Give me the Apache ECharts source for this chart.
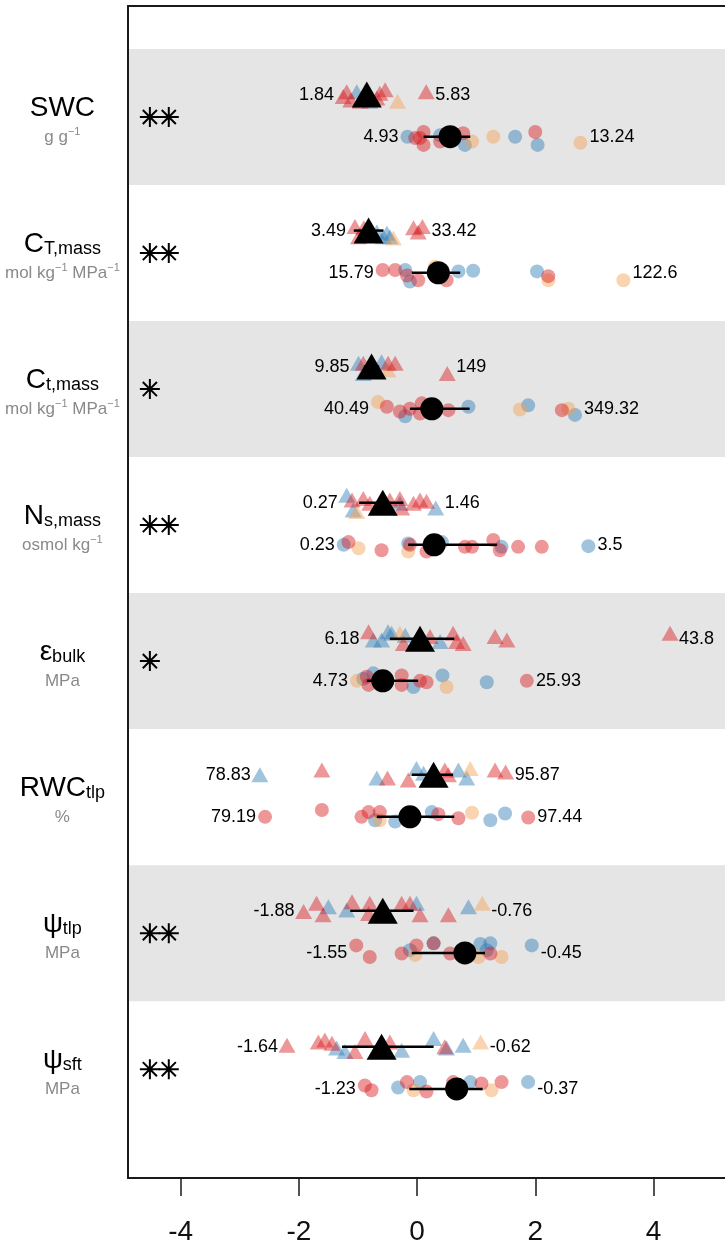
<!DOCTYPE html>
<html>
<head>
<meta charset="utf-8">
<script src="https://cdn.jsdelivr.net/npm/echarts@6/dist/echarts.min.js"></script>
<style>
  html, body { margin: 0; padding: 0; background: #fff; }
  #chart { width: 725px; height: 1250px; }
</style>
</head>
<body>
<div id="chart"></div>
<script>
// ---- Row descriptions -------------------------------------------------
const rowTitles = [
  '{m|SWC}',
  '{m|C}{s|T,mass}',
  '{m|C}{s|t,mass}',
  '{m|N}{s|s,mass}',
  '{m|ε}{s|bulk}',
  '{m|RWC}{s|tlp}',
  '{m|ψ}{s|tlp}',
  '{m|ψ}{s|sft}'
];
const rowUnits = [
  '{u|g g}{p|−1}',
  '{u|mol kg}{p|−1}{u| MPa}{p|−1}',
  '{u|mol kg}{p|−1}{u| MPa}{p|−1}',
  '{u|osmol kg}{p|−1}',
  '{u|MPa}',
  '{u|%}',
  '{u|MPa}',
  '{u|MPa}'
];
const rowStars = [2, 2, 1, 2, 1, 0, 2, 2];

// centre and spread of each trait (raw units), used to standardise
const rowCenter = [5.39, 31.03, 101.6, 1.21, 12.23, 89.73, -1.169, -0.955];
const rowSpread = [2.84, 26.23, 92.7, 0.79, 7.376, 4.099, 0.3705, 0.3113];

// ---- Individual species: [standardised value, vertical jitter, group] ----
// groups: r = red, b = blue, o = orange
const swcTri = [[-1.19,-0.02,'r'],[-1.12,0.04,'r'],[-1.02,-0.02,'b'],[-0.96,0.05,'r'],[-0.80,0.05,'b'],[-0.63,-0.01,'r'],[-0.54,-0.035,'r'],[-0.68,0.025,'r'],[-0.33,0.05,'o']];
const swcTriEnds = [[1.84,0.015,'r'],[5.83,-0.02,'r']];
const swcCirc = [[-0.03,0.01,'r'],[0.11,-0.035,'r'],[0.11,0.06,'r'],[0.05,0.01,'r'],[0.39,-0.01,'b'],[0.39,0.035,'r'],[0.50,-0.025,'r'],[0.78,-0.025,'r'],[0.81,0.06,'b'],[0.93,0.035,'o'],[1.29,0,'o'],[1.66,0,'b'],[2.00,-0.035,'r'],[2.04,0.06,'b']];
const swcCircEnds = [[4.93,0,'b'],[13.24,0.045,'o']];

const cBigTri = [[-0.99,0.045,'r'],[-0.90,-0.02,'r'],[-0.74,0.03,'r'],[-0.68,0.01,'b'],[-0.57,0.045,'b'],[-0.51,0.02,'b'],[-0.46,0.045,'b'],[-0.40,0.055,'o'],[-0.06,-0.02,'r'],[0.02,0.01,'r']];
const cBigTriEnds = [[3.49,-0.03,'r'],[33.42,-0.03,'r']];
const cBigCirc = [[-0.37,-0.02,'r'],[-0.20,-0.02,'b'],[-0.17,0.02,'r'],[-0.12,0.065,'b'],[0.02,0.055,'r'],[0.30,-0.045,'o'],[0.50,0.055,'r'],[0.70,-0.01,'b'],[0.95,-0.015,'b'],[2.03,-0.01,'b'],[2.22,0.055,'o'],[2.22,0.025,'r']];
const cBigCircEnds = [[15.79,-0.02,'r'],[122.6,0.055,'o']];

const cSmallTri = [[-0.91,-0.025,'r'],[-0.91,0.05,'b'],[-0.72,0.035,'r'],[-0.60,-0.035,'b'],[-0.49,-0.025,'r'],[-0.37,-0.025,'r'],[-0.49,0.025,'o']];
const cSmallTriEnds = [[9.85,-0.025,'b'],[149,0.05,'r']];
const cSmallCirc = [[-0.51,-0.015,'r'],[-0.29,0.02,'r'],[-0.20,0.055,'b'],[-0.12,0,'r'],[0.08,-0.04,'r'],[0.05,0.035,'r'],[0.53,0.01,'r'],[0.87,-0.015,'b'],[1.74,0.005,'o'],[1.88,-0.025,'b'],[2.45,0.01,'r'],[2.56,0,'o']];
const cSmallCircEnds = [[40.49,-0.05,'o'],[349.32,0.045,'b']];

const nsTri = [[-1.08,0.055,'b'],[-1.02,0.065,'o'],[-1.10,-0.02,'r'],[-0.91,-0.03,'r'],[-0.80,0.005,'r'],[-0.46,-0.02,'r'],[-0.29,-0.03,'r'],[-0.26,0.04,'r'],[-0.29,0.005,'b'],[-0.06,0.005,'r'],[0.05,-0.02,'r'],[0.16,-0.01,'r']];
const nsTriEnds = [[0.27,-0.055,'b'],[1.46,0.04,'b']];
const nsCirc = [[-1.16,-0.02,'r'],[-0.99,0.025,'o'],[-0.60,0.04,'r'],[-0.15,-0.01,'b'],[-0.12,0,'r'],[-0.15,0.05,'o'],[0.16,0.05,'r'],[0.42,-0.02,'b'],[0.81,0.015,'r'],[0.93,0.015,'r'],[1.29,-0.035,'r'],[1.40,0.04,'r'],[1.43,0.015,'b'],[1.71,0.015,'r'],[2.11,0.015,'r']];
const nsCircEnds = [[0.23,0,'b'],[3.5,0.01,'b']];

const epsTri = [[-0.74,0.01,'b'],[-0.60,0.01,'b'],[-0.49,-0.05,'b'],[-0.43,-0.04,'b'],[-0.29,-0.04,'o'],[-0.23,0.035,'r'],[-0.20,-0.025,'b'],[0.22,-0.015,'r'],[0.39,0.02,'b'],[0.61,-0.04,'r'],[0.67,0.02,'r'],[0.78,0.035,'r'],[1.32,-0.015,'r'],[1.52,0.01,'r']];
const epsTriEnds = [[6.18,-0.05,'r'],[43.8,-0.04,'r']];
const epsCirc = [[-0.91,-0.015,'b'],[-0.85,-0.03,'r'],[-0.82,0.03,'r'],[-0.74,-0.055,'b'],[-0.26,-0.04,'r'],[-0.26,0.03,'r'],[-0.06,0.045,'b'],[0.05,0,'r'],[0.16,0.01,'r'],[0.43,-0.04,'b'],[0.50,0.045,'o'],[1.18,0.01,'b']];
const epsCircEnds = [[4.73,0,'o'],[25.93,0,'r']];

const rwcTri = [[-1.61,-0.035,'r'],[-0.68,0.025,'b'],[-0.50,0.025,'r'],[-0.15,0.04,'r'],[-0.01,-0.045,'b'],[0.11,-0.01,'b'],[0.47,-0.035,'r'],[0.53,0,'r'],[0.70,-0.035,'b'],[0.90,-0.045,'o'],[0.84,0.025,'b'],[1.32,-0.035,'r']];
const rwcTriEnds = [[78.83,0,'b'],[95.87,-0.02,'r']];
const rwcCirc = [[-1.61,-0.05,'r'],[-0.94,0,'r'],[-0.82,-0.035,'r'],[-0.63,-0.035,'r'],[-0.71,0.025,'b'],[-0.63,0.025,'o'],[-0.37,0.035,'b'],[0.25,-0.035,'b'],[0.36,-0.02,'r'],[0.70,0.01,'r'],[0.93,-0.03,'o'],[1.24,0.025,'b'],[1.49,-0.025,'b']];
const rwcCircEnds = [[79.19,0,'r'],[97.44,0.005,'r']];

const tlpTri = [[-1.70,-0.055,'r'],[-1.50,-0.03,'b'],[-1.59,0.03,'r'],[-1.10,-0.065,'r'],[-1.19,-0.005,'b'],[-0.80,-0.055,'r'],[-0.82,0.02,'r'],[-0.26,-0.055,'r'],[-0.12,-0.055,'r'],[-0.01,-0.055,'b'],[0.05,0.03,'r'],[0.53,0.03,'r'],[0.87,-0.03,'b']];
const tlpTriEnds = [[-1.88,0.005,'r'],[-0.76,-0.055,'o']];
const tlpCirc = [[-0.80,0.03,'r'],[-0.26,0.005,'r'],[-0.12,-0.02,'b'],[-0.01,-0.055,'r'],[-0.03,0.015,'o'],[0.28,-0.07,'b'],[0.28,-0.07,'r'],[0.56,0.005,'r'],[1.07,-0.065,'b'],[1.24,-0.07,'b'],[1.04,0.03,'o'],[1.24,0.005,'r'],[1.43,0.03,'o'],[1.18,-0.02,'b']];
const tlpCircEnds = [[-1.55,-0.055,'r'],[-0.45,-0.055,'b']];

const sftTri = [[-1.67,-0.035,'r'],[-1.56,-0.05,'r'],[-1.44,-0.025,'r'],[-1.36,0.01,'b'],[-1.22,0.035,'b'],[-1.05,0.035,'r'],[-0.88,-0.06,'r'],[-0.46,-0.035,'r'],[-0.26,0.025,'b'],[0.28,-0.06,'b'],[0.47,0,'r'],[0.50,0.01,'b'],[0.78,-0.01,'b']];
const sftTriEnds = [[-1.64,-0.01,'r'],[-0.62,-0.035,'o']];
const sftCirc = [[-0.77,0.01,'r'],[-0.32,-0.01,'b'],[-0.17,-0.05,'r'],[-0.06,0.01,'o'],[0.05,-0.05,'b'],[0.16,0.02,'r'],[0.61,-0.05,'r'],[0.90,-0.05,'b'],[1.09,-0.04,'r'],[1.26,0.01,'o'],[1.43,-0.05,'r']];
const sftCircEnds = [[-1.23,-0.025,'r'],[-0.37,-0.05,'b']];

// ---- Group means with intervals (standardised) ----
const triMean  = [-0.85, -0.82, -0.77, -0.58, 0.05, 0.28, -0.58, -0.60];
const triLow   = [-0.95, -1.07, -0.90, -0.98, -0.46, -0.09, -1.13, -1.27];
const triHigh  = [-0.75, -0.57, -0.64, -0.23, 0.63, 0.61, -0.06, 0.28];
const circMean = [0.56, 0.36, 0.25, 0.29, -0.58, -0.12, 0.81, 0.67];
const circLow  = [0.11, -0.09, -0.12, -0.15, -0.85, -0.68, -0.09, -0.13];
const circHigh = [0.90, 0.73, 0.89, 1.35, 0.02, 0.63, 1.15, 1.11];

const xTicks = [-4, -2, 0, 2, 4];

// ---- Build series data ------------------------------------------------
const rows = [
  { tri: swcTri, triEnds: swcTriEnds, circ: swcCirc, circEnds: swcCircEnds },
  { tri: cBigTri, triEnds: cBigTriEnds, circ: cBigCirc, circEnds: cBigCircEnds },
  { tri: cSmallTri, triEnds: cSmallTriEnds, circ: cSmallCirc, circEnds: cSmallCircEnds },
  { tri: nsTri, triEnds: nsTriEnds, circ: nsCirc, circEnds: nsCircEnds },
  { tri: epsTri, triEnds: epsTriEnds, circ: epsCirc, circEnds: epsCircEnds },
  { tri: rwcTri, triEnds: rwcTriEnds, circ: rwcCirc, circEnds: rwcCircEnds },
  { tri: tlpTri, triEnds: tlpTriEnds, circ: tlpCirc, circEnds: tlpCircEnds },
  { tri: sftTri, triEnds: sftTriEnds, circ: sftCirc, circEnds: sftCircEnds }
];

const TRI_ROW = 0.335;   // position of the triangle line inside a band
const CIRC_ROW = 0.645;  // position of the circle line inside a band
const FONT = "'Liberation Sans', Arial, Helvetica, sans-serif";

const standardise = (i, raw) => (raw - rowCenter[i]) / rowSpread[i];

const points = { tri: { b: [], o: [], r: [] }, circ: { b: [], o: [], r: [] } };
const leftLabels = [];
const rightLabels = [];
rows.forEach((row, i) => {
  [['tri', TRI_ROW], ['circ', CIRC_ROW]].forEach(([kind, off]) => {
    row[kind].forEach(([v, dy, g]) => points[kind][g].push([v, i + off + dy]));
    row[kind + 'Ends'].forEach(([raw, dy, g], j) => {
      const x = standardise(i, raw);
      points[kind][g].push([x, i + off + dy]);
      (j === 0 ? leftLabels : rightLabels).push({ value: [x, i + off], name: String(raw) });
    });
  });
});

const errData = [];
rows.forEach((_, i) => {
  errData.push([triLow[i], triHigh[i], i + TRI_ROW]);
  errData.push([circLow[i], circHigh[i], i + CIRC_ROW]);
});
const triMeanData = triMean.map((v, i) => [v, i + TRI_ROW]);
const circMeanData = circMean.map((v, i) => [v, i + CIRC_ROW]);

const starData = [];
rowStars.forEach((n, i) => {
  for (let k = 0; k < n; k++) starData.push([-4.52 + k * 0.32, i + 0.5]);
});

const TITLE_X = -6.0;
const titleData = rowTitles.map((t, i) => ({ value: [TITLE_X, i + 0.5 - 0.074], name: t }));
const unitData = rowUnits.map((t, i) => ({ value: [TITLE_X, i + 0.5 + 0.14], name: t }));
const bandData = [0, 2, 4, 6];

const palette = {
  r: 'rgba(215, 25, 28, 0.45)',
  b: 'rgba(44, 123, 182, 0.45)',
  o: 'rgba(245, 160, 80, 0.45)'
};

const pointSeries = [];
['tri', 'circ'].forEach(kind => {
  ['b', 'o', 'r'].forEach(g => {
    pointSeries.push({
      type: 'scatter',
      data: points[kind][g],
      symbol: kind === 'tri' ? 'triangle' : 'circle',
      symbolSize: kind === 'tri' ? [17, 15] : 14,
      itemStyle: { color: palette[g], opacity: 1 },
      silent: true,
      z: 3
    });
  });
});

const asterisk = 'path://M10,0L10,20M0,10L20,10M2.93,2.93L17.07,17.07M2.93,17.07L17.07,2.93';

const xMin = -4.89, xMax = 5.21;
const frameLine = { color: '#1a1a1a', width: 2 };
const hidden = { color: 'rgba(0,0,0,0)', opacity: 1 };

const option = {
  animation: false,
  backgroundColor: '#fff',
  textStyle: { fontFamily: FONT },
  grid: { left: 128, top: 6, right: 0, height: 1172, containLabel: false },
  xAxis: [
    {
      type: 'value', min: xMin, max: xMax, position: 'bottom',
      axisLine: { show: true, onZero: false, lineStyle: frameLine },
      axisTick: { show: true, customValues: xTicks, length: 18, lineStyle: { color: '#1a1a1a', width: 1.5 } },
      axisLabel: { show: true, customValues: xTicks, fontSize: 28, color: '#111', margin: 40, fontFamily: FONT },
      splitLine: { show: false }
    },
    {
      type: 'value', min: xMin, max: xMax, position: 'top',
      axisLine: { show: true, onZero: false, lineStyle: frameLine },
      axisTick: { show: false }, axisLabel: { show: false }, splitLine: { show: false }
    }
  ],
  yAxis: {
    type: 'value', inverse: true, min: -0.316, max: 8.30,
    axisLine: { show: true, onZero: false, lineStyle: frameLine },
    axisTick: { show: false }, axisLabel: { show: false }, splitLine: { show: false }
  },
  series: [
    {
      // alternating grey bands behind every other trait
      type: 'custom',
      z: -1,
      silent: true,
      data: bandData,
      encode: { y: 0 },
      renderItem: (params, api) => {
        const i = api.value(0);
        const p1 = api.coord([xMin, i]);
        const p2 = api.coord([xMax, i + 1]);
        return {
          type: 'rect',
          shape: { x: p1[0], y: p1[1], width: p2[0] - p1[0], height: p2[1] - p1[1] },
          style: { fill: '#e5e5e5' }
        };
      }
    },
    ...pointSeries,
    {
      // interval bars for the two group means
      type: 'custom',
      z: 4,
      silent: true,
      data: errData,
      encode: { x: [0, 1], y: 2 },
      renderItem: (params, api) => {
        const y = api.value(2);
        const a = api.coord([api.value(0), y]);
        const b = api.coord([api.value(1), y]);
        return {
          type: 'line',
          shape: { x1: a[0], y1: a[1], x2: b[0], y2: b[1] },
          style: { stroke: '#000', lineWidth: 2.5 }
        };
      }
    },
    {
      type: 'scatter', data: triMeanData, symbol: 'triangle', symbolSize: [30, 26],
      itemStyle: { color: '#000', opacity: 1 }, z: 5, silent: true
    },
    {
      type: 'scatter', data: circMeanData, symbol: 'circle', symbolSize: 23,
      itemStyle: { color: '#000', opacity: 1 }, z: 5, silent: true
    },
    {
      type: 'scatter', data: leftLabels, symbolSize: 0.1, itemStyle: hidden,
      z: 6, silent: true,
      label: { show: true, position: 'left', distance: 9, formatter: p => p.name, fontSize: 18, color: '#000', fontFamily: FONT }
    },
    {
      type: 'scatter', data: rightLabels, symbolSize: 0.1, itemStyle: hidden,
      z: 6, silent: true,
      label: { show: true, position: 'right', distance: 9, formatter: p => p.name, fontSize: 18, color: '#000', fontFamily: FONT }
    },
    {
      // significance asterisks
      type: 'scatter', data: starData, symbol: asterisk, symbolSize: 20,
      itemStyle: { color: 'rgba(0,0,0,0)', borderColor: '#000', borderWidth: 2, opacity: 1 },
      z: 6, silent: true
    },
    {
      // trait names in the left margin
      type: 'scatter', data: titleData, symbolSize: 0.1, clip: false,
      itemStyle: hidden, z: 6, silent: true,
      label: {
        show: true, position: 'inside', formatter: p => p.name, fontFamily: FONT,
        rich: {
          m: { fontSize: 28, lineHeight: 30, color: '#000', verticalAlign: 'bottom', fontFamily: FONT },
          s: { fontSize: 18, lineHeight: 18, color: '#000', verticalAlign: 'bottom', fontFamily: FONT }
        }
      }
    },
    {
      // units under the trait names
      type: 'scatter', data: unitData, symbolSize: 0.1, clip: false,
      itemStyle: hidden, z: 6, silent: true,
      label: {
        show: true, position: 'inside', formatter: p => p.name, fontFamily: FONT,
        rich: {
          u: { fontSize: 17, lineHeight: 20, color: '#8a8a8a', verticalAlign: 'bottom', fontFamily: FONT },
          p: { fontSize: 11, lineHeight: 11, color: '#8a8a8a', verticalAlign: 'top', fontFamily: FONT }
        }
      }
    }
  ]
};

const chart = echarts.init(document.getElementById('chart'), null, { renderer: 'canvas' });
chart.setOption(option);
</script>
</body>
</html>
